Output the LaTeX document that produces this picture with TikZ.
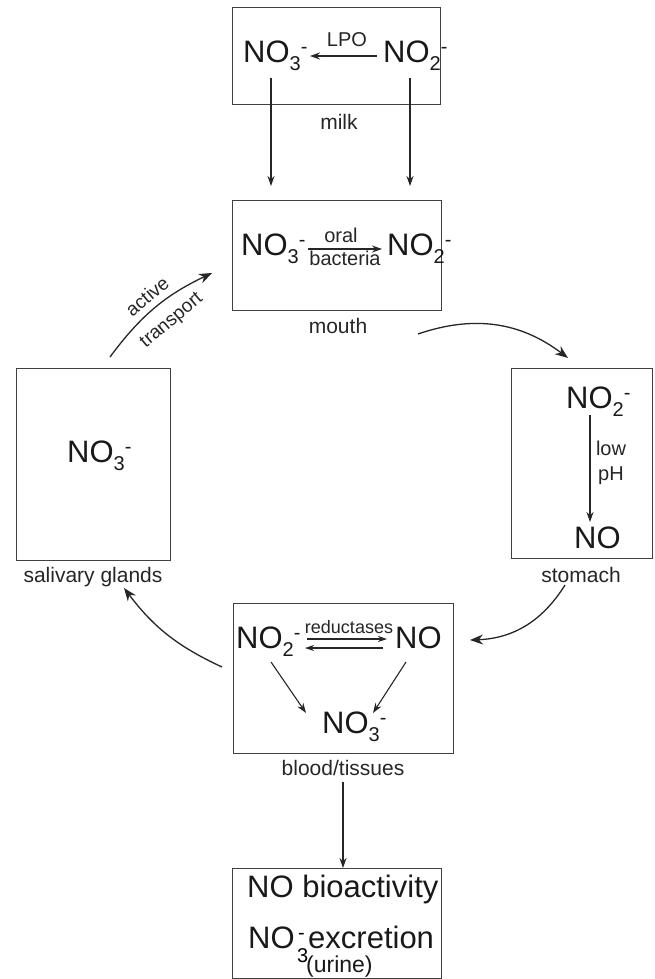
\documentclass[tikz,border=0pt]{standalone}
\usepackage{fontspec}
\setmainfont{Liberation Sans}
\usetikzlibrary{arrows.meta}
\newcommand\subsz{\fontsize{20}{20}\selectfont}
\newcommand\ionNO[1]{NO\raisebox{-8pt}{\subsz #1}\raisebox{9pt}{\subsz -}}
\tikzset{
  box/.style={draw=black!75, line width=1.1pt, inner sep=0pt, anchor=north west},
  big/.style={font=\fontsize{31}{34}\selectfont, inner sep=0pt, text=black!90},
  lab/.style={font=\fontsize{21}{23}\selectfont, inner sep=0pt, text=black!85},
  slab/.style={font=\fontsize{20}{22}\selectfont, inner sep=0pt, text=black!85},
  rlab/.style={font=\fontsize{19}{21}\selectfont, inner sep=0pt, text=black!85},
  tlab/.style={font=\fontsize{18}{20}\selectfont, inner sep=0pt, text=black!85},
  arr/.style={-{Stealth[length=10pt,width=7pt]}, line width=1.1pt, draw=black!85},
  carr/.style={-{Stealth[length=13pt,width=10pt]}, line width=1.3pt, draw=black!85},
}
\begin{document}
\begin{tikzpicture}[x=1pt,y=-1pt]
\useasboundingbox (0,0) rectangle (654,979);
% boxes
\node[box, minimum width=208pt, minimum height=97pt] (milk) at (232,7) {};
\node[box, minimum width=209pt, minimum height=110pt] (mouth) at (232,200) {};
\node[box, minimum width=154pt, minimum height=192pt] (saliv) at (16,368) {};
\node[box, minimum width=141pt, minimum height=190pt] (stom) at (511,368) {};
\node[box, minimum width=220pt, minimum height=150pt] (blood) at (233,603) {};
\node[box, minimum width=209pt, minimum height=110pt] (final) at (232,868) {};
% box labels
\node[lab, anchor=base] (milkL) at (339,129) {milk};
\node[lab, anchor=base] (mouthL) at (338,333) {mouth};
\node[lab, anchor=base] (salivL) at (93,582) {salivary glands};
\node[lab, anchor=base] (stomL) at (581,582) {stomach};
\node[lab, anchor=base] (bloodL) at (343,775) {blood/tissues};
% milk contents
\node[big, anchor=base west] (m3) at (243,63) {\ionNO{3}};
\node[big, anchor=base west] (m2) at (383,63) {\ionNO{2}};
\node[slab, anchor=base] (lpo) at (347,47) {LPO};
\coordinate (lpoS) at (377,56);
\coordinate (lpoE) at (310,56);
\draw[arr] (lpoS) -- (lpoE);
\coordinate (md1) at (271,78);
\coordinate (md2) at (410,78);
\draw[arr] (md1) -- (271,186);
\draw[arr] (md2) -- (410,186);
% mouth contents
\node[big, anchor=base west] (o3) at (241,255) {\ionNO{3}};
\node[big, anchor=base west] (o2) at (387,255) {\ionNO{2}};
\node[slab, anchor=base] (oral) at (341,242) {oral};
\node[slab, anchor=base] (bact) at (345,265) {bacteria};
\coordinate (oS) at (308,249);
\coordinate (oE) at (382,249);
\draw[arr] (oS) -- (oE);
% salivary
\node[big, anchor=base west] (s3) at (67,462) {\ionNO{3}};
% stomach
\node[big, anchor=base west] (st2) at (566,408) {\ionNO{2}};
\node[big, anchor=base west] (stno) at (574,548) {NO};
\node[slab, anchor=base] (low) at (611,455) {low};
\node[slab, anchor=base] (ph) at (611,480) {pH};
\coordinate (stS) at (590,415);
\coordinate (stE) at (590,522);
\draw[arr] (stS) -- (stE);
% blood
\node[big, anchor=base west] (b2) at (236,648) {\ionNO{2}};
\node[big, anchor=base west] (bno) at (395,648) {NO};
\node[big, anchor=base west] (b3) at (322,733) {\ionNO{3}};
\node[tlab, anchor=base] (red) at (349,633) {reductases};
\coordinate (r1S) at (307,639);
\coordinate (r1E) at (387,639);
\coordinate (r2S) at (383,648);
\coordinate (r2E) at (305,648);
\draw[arr, -{Stealth[length=9pt,width=6pt]}] (r1S) -- (r1E);
\draw[arr, -{Stealth[length=9pt,width=6pt]}] (r2S) -- (r2E);
\coordinate (d1S) at (271,662);
\coordinate (d1E) at (306,713);
\coordinate (d2S) at (406,662);
\coordinate (d2E) at (373,713);
\draw[arr] (d1S) -- (d1E);
\draw[arr] (d2S) -- (d2E);
% final
\node[big, anchor=base west] (bio) at (247,897) {NO bioactivity};
\node[big, anchor=base west] (exNO) at (248,948) {NO};
\node[font=\fontsize{20}{20}\selectfont, inner sep=0pt, anchor=base west] (ex3) at (297,962) {3};
\node[font=\fontsize{20}{20}\selectfont, inner sep=0pt, anchor=base west] (exm) at (298,939) {-};
\node[big, anchor=base west] (exc) at (308,948) {excretion};
\node[font=\fontsize{23}{25}\selectfont, inner sep=0pt, anchor=base west, text=black!90] (urine) at (306,972) {(urine)};
\coordinate (bdS) at (343,782);
\draw[arr] (bdS) -- (bdS |- final.north);
% cycle arrows
\coordinate (a1S) at (110,357);
\coordinate (a1E) at (212,273);
\draw[carr] (a1S) to[bend left=14] (a1E);
\node[rlab, rotate=40] (act) at (147,296) {active};
\node[rlab, rotate=40] (trans) at (172,321) {transport};
\coordinate (a2S) at (418,334);
\coordinate (a2E) at (568,358);
\draw[carr] (a2S) to[bend left=28] (a2E);
\coordinate (a3S) at (565,585);
\coordinate (a3E) at (470,640);
\draw[carr] (a3S) to[bend left=28] (a3E);
\coordinate (a4S) at (222,667);
\coordinate (a4E) at (124,588);
\draw[carr] (a4S) to[bend left=14] (a4E);
\end{tikzpicture}
\end{document}
